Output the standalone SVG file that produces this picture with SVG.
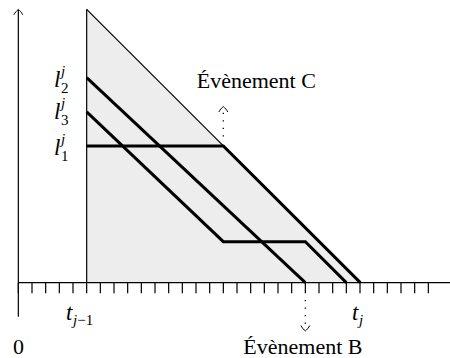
<svg xmlns="http://www.w3.org/2000/svg" width="450" height="358" viewBox="0 0 450 358">
<style>
.thin{stroke:#000;stroke-width:1.2;fill:none}
.thick{stroke:#000;stroke-width:3;fill:none;stroke-linejoin:miter}
.dot{stroke:#000;stroke-width:1.3;fill:none;stroke-dasharray:1.3 6.2}
.arr{stroke:#000;stroke-width:1;fill:none}
text{font-family:"Liberation Serif","Times New Roman",serif;fill:#000}
.t{font-size:22px}
.m{font-size:23px;font-style:italic}
.s{font-size:15px;font-style:italic}
.sn{font-size:15px;font-style:normal}
</style>
<defs>
<path id="ah" d="M-4.5,5.5 C-3.5,3.5 -1.2,1 0,0 C1.2,1 3.5,3.5 4.5,5.5"/>
</defs>
<g id="region">
<polygon points="86.67,9.33 360.33,282.67 86.67,282.67" fill="#ededed" stroke="none"/>
<line class="thin" x1="86.67" y1="9.33" x2="86.67" y2="282.67"/>
<line class="thin" x1="86.67" y1="9.33" x2="360.33" y2="282.67"/>
</g>
<g id="axes">
<line class="thin" x1="18.33" y1="316.8" x2="18.33" y2="10"/>
<use href="#ah" class="arr" x="18.33" y="9.33"/>
<line class="thin" x1="18.33" y1="282.67" x2="450" y2="282.67"/>
<path class="thin" stroke-width="1.4" d="M18.33,282.67v10.5 M32,282.67v10.5 M45.67,282.67v10.5 M59.33,282.67v10.5 M73,282.67v10.5 M86.67,282.67v10.5 M100.33,282.67v10.5 M114,282.67v10.5 M127.67,282.67v10.5 M141.33,282.67v10.5 M155,282.67v10.5 M168.67,282.67v10.5 M182.33,282.67v10.5 M196,282.67v10.5 M209.67,282.67v10.5 M223.33,282.67v10.5 M237,282.67v10.5 M250.67,282.67v10.5 M264.33,282.67v10.5 M278,282.67v10.5 M291.67,282.67v10.5 M305.33,282.67v10.5 M319,282.67v10.5 M332.67,282.67v10.5 M346.33,282.67v10.5 M360,282.67v10.5 M373.67,282.67v10.5 M387.33,282.67v10.5 M401,282.67v10.5 M414.67,282.67v10.5 M428.33,282.67v10.5"/>
</g>
<g id="connectors">
<polyline id="l1" class="thick" points="86.67,146 223.33,146 360.33,282.67"/>
<polyline id="l2" class="thick" points="86.67,77.67 305.33,282.67"/>
<polyline id="l3" class="thick" points="86.67,111.83 223.33,241.67 305.33,241.67 346.33,282.67"/>
<line class="dot" x1="223.33" y1="136.5" x2="223.33" y2="112"/>
<use href="#ah" class="arr" x="223.33" y="106.5"/>
<line class="dot" x1="305.33" y1="300" x2="305.33" y2="325"/>
<use href="#ah" class="arr" transform="translate(305.33,331) rotate(180)"/>
</g>
<g id="labels">
<text class="m" x="54" y="87">l<tspan class="s" x="61" y="75.5">j</tspan><tspan class="sn" x="61" y="93">2</tspan></text>
<text class="m" x="54" y="119">l<tspan class="s" x="61" y="107.5">j</tspan><tspan class="sn" x="61" y="125">3</tspan></text>
<text class="m" x="54" y="155">l<tspan class="s" x="61" y="143.5">j</tspan><tspan class="sn" x="61" y="161">1</tspan></text>
<text class="m" x="66" y="320">t<tspan class="s" x="73" y="325">j</tspan><tspan class="sn">−1</tspan></text>
<text class="m" x="352" y="320">t<tspan class="s" x="359" y="325">j</tspan></text>
<text class="t" x="13" y="354">0</text>
<text id="evC" class="t" x="196.7" y="88.3">Évènement C</text>
<text id="evB" class="t" x="243.3" y="354">Évènement B</text>
</g>
</svg>
